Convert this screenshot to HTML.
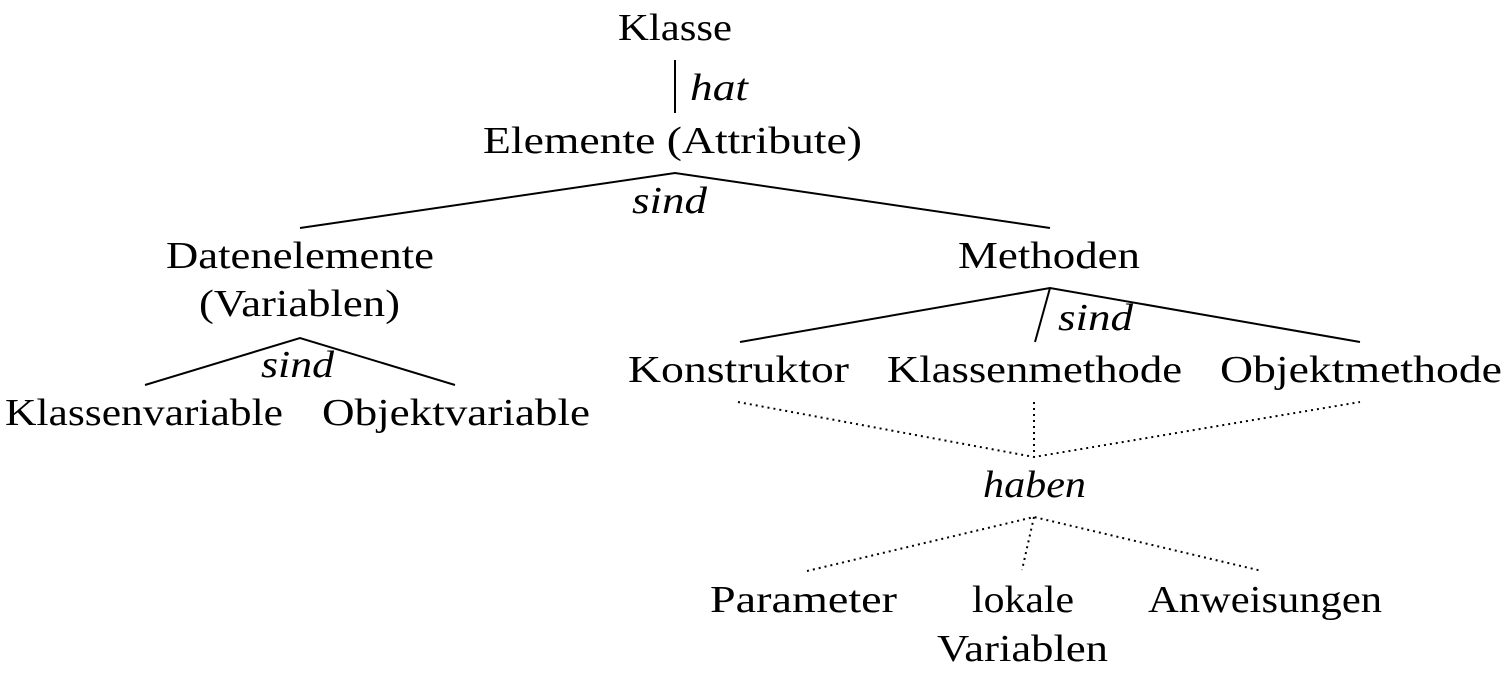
<!DOCTYPE html>
<html><head><meta charset="utf-8"><style>
html,body{margin:0;padding:0;background:#fff;width:1506px;height:681px;overflow:hidden}
svg text{font-family:"Liberation Serif",serif;font-size:38px;fill:#000}
.i{font-style:italic}
</style></head><body>
<svg width="1506" height="681" xmlns="http://www.w3.org/2000/svg">
<g stroke="#000" stroke-width="2" fill="none">
<line x1="675" y1="60" x2="675" y2="113"/>
<polyline points="300,228 675,173 1050,228"/>
<polyline points="145,385 300,338 455,385"/>
<polyline points="740,342 1050,288 1360,342"/>
<line x1="1050" y1="288" x2="1035" y2="342"/>
</g>
<g stroke="#000" stroke-width="2" fill="none" stroke-dasharray="2,4">
<polyline points="738,402 1034,457 1360,402"/>
<line x1="1034" y1="402" x2="1034" y2="457"/>
<polyline points="807,571 1034,517 1262,571"/>
<line x1="1034" y1="517" x2="1022" y2="570"/>
</g>
<text x="618" y="40" textLength="114" lengthAdjust="spacingAndGlyphs">Klasse</text>
<text class="i" x="690" y="100" textLength="58" lengthAdjust="spacingAndGlyphs">hat</text>
<text x="483" y="153" textLength="379" lengthAdjust="spacingAndGlyphs">Elemente (Attribute)</text>
<text class="i" x="632" y="213" textLength="75" lengthAdjust="spacingAndGlyphs">sind</text>
<text x="166" y="268" textLength="268" lengthAdjust="spacingAndGlyphs">Datenelemente</text>
<text x="199" y="316" textLength="201" lengthAdjust="spacingAndGlyphs">(Variablen)</text>
<text class="i" x="261" y="377" textLength="73" lengthAdjust="spacingAndGlyphs">sind</text>
<text x="5" y="425" textLength="278" lengthAdjust="spacingAndGlyphs">Klassenvariable</text>
<text x="322" y="425" textLength="268" lengthAdjust="spacingAndGlyphs">Objektvariable</text>
<text x="958" y="268" textLength="182" lengthAdjust="spacingAndGlyphs">Methoden</text>
<text class="i" x="1058" y="330" textLength="75" lengthAdjust="spacingAndGlyphs">sind</text>
<text x="628" y="382" textLength="221" lengthAdjust="spacingAndGlyphs">Konstruktor</text>
<text x="887" y="382" textLength="295" lengthAdjust="spacingAndGlyphs">Klassenmethode</text>
<text x="1220" y="382" textLength="282" lengthAdjust="spacingAndGlyphs">Objektmethode</text>
<text class="i" x="983" y="497" textLength="103" lengthAdjust="spacingAndGlyphs">haben</text>
<text x="710" y="612" textLength="187" lengthAdjust="spacingAndGlyphs">Parameter</text>
<text x="972" y="612" textLength="102" lengthAdjust="spacingAndGlyphs">lokale</text>
<text x="937" y="661" textLength="171" lengthAdjust="spacingAndGlyphs">Variablen</text>
<text x="1148" y="612" textLength="234" lengthAdjust="spacingAndGlyphs">Anweisungen</text>
</svg>
</body></html>
